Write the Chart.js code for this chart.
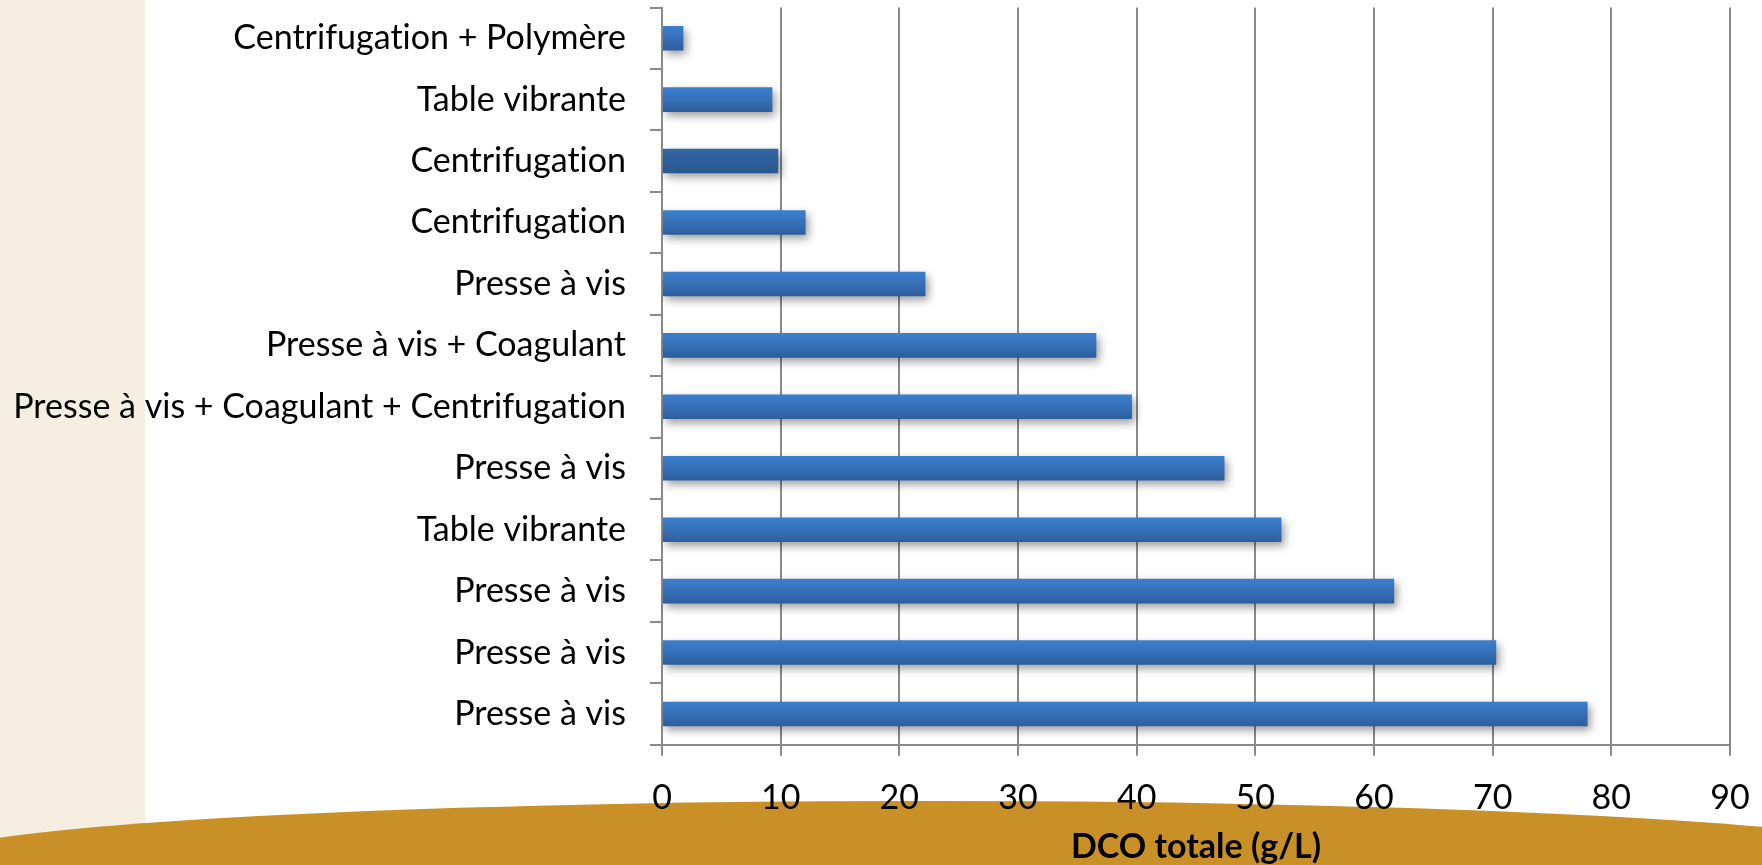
<!DOCTYPE html>
<html>
<head>
<meta charset="utf-8">
<script src="https://cdn.jsdelivr.net/npm/chart.js@4/dist/chart.umd.min.js"></script>
<style>
  html, body { margin: 0; padding: 0; background: #ffffff; }
  #wrap { width: 1762px; height: 865px; position: relative; }
</style>
</head>
<body>
<div id="wrap"><canvas id="c" width="1762" height="865"></canvas></div>
<script>
const categories = [
  "Centrifugation + Polymère",
  "Table vibrante",
  "Centrifugation",
  "Centrifugation",
  "Presse à vis",
  "Presse à vis + Coagulant",
  "Presse à vis + Coagulant + Centrifugation",
  "Presse à vis",
  "Table vibrante",
  "Presse à vis",
  "Presse à vis",
  "Presse à vis"
];
const dcoValues = [1.8, 9.3, 9.8, 12.1, 22.2, 36.6, 39.6, 47.4, 52.2, 61.7, 70.3, 78.0];
const highlightIndex = 2;
const xTicks = [0, 10, 20, 30, 40, 50, 60, 70, 80, 90];
const axisTitle = "DCO totale (g/L)";

const FONT = "Lato, 'Open Sans', sans-serif";
const GRID = "#8a8a8a";

const background = {
  id: 'background',
  beforeDraw(chart) {
    const ctx = chart.ctx;
    ctx.textRendering = 'optimizeSpeed';
    ctx.save();
    ctx.fillStyle = '#ffffff';
    ctx.fillRect(0, 0, chart.width, chart.height);
    ctx.fillStyle = '#F6EEE1';
    ctx.fillRect(0, 0, 145, chart.height);
    ctx.fillStyle = '#C89026';
    ctx.beginPath();
    ctx.ellipse(930, 859, 1000, 58, 0, 0, Math.PI * 2);
    ctx.fill();
    ctx.restore();
  }
};

const shadow = {
  id: 'barShadow',
  beforeDatasetsDraw(chart) {
    const ctx = chart.ctx;
    ctx.save();
    ctx.shadowColor = 'rgba(0,0,0,0.38)';
    ctx.shadowBlur = 9;
    ctx.shadowOffsetX = 3;
    ctx.shadowOffsetY = 4;
  },
  afterDatasetsDraw(chart) {
    chart.ctx.restore();
  }
};

function barFill(c) {
  const chart = c.chart;
  const y = chart.scales && chart.scales.y;
  const idx = c.dataIndex;
  const fallback = idx === highlightIndex ? '#2D5E9B' : '#3570B8';
  if (!y || idx === undefined) return fallback;
  const p0 = y.getPixelForValue(0), p1 = y.getPixelForValue(1);
  const cy = y.getPixelForValue(idx);
  const band = Math.abs(p1 - p0);
  if (!isFinite(band) || !isFinite(cy) || band <= 0) return fallback;
  const h = band * 0.4;
  const g = chart.ctx.createLinearGradient(0, cy - h / 2, 0, cy + h / 2);
  if (idx === highlightIndex) {
    g.addColorStop(0, '#3266A7');
    g.addColorStop(1, '#29588F');
  } else {
    g.addColorStop(0, '#3C7FCD');
    g.addColorStop(0.5, '#3670B8');
    g.addColorStop(1, '#2C5E9C');
  }
  return g;
}

const chart = new Chart(document.getElementById('c'), {
  type: 'bar',
  data: {
    labels: categories,
    datasets: [{
      label: axisTitle,
      data: dcoValues,
      backgroundColor: barFill,
      borderWidth: 0,
      barPercentage: 0.4,
      categoryPercentage: 1.0
    }]
  },
  options: {
    indexAxis: 'y',
    responsive: false,
    animation: false,
    layout: { padding: { top: 7.5, right: 32, bottom: 0, left: 0 } },
    plugins: {
      legend: { display: false },
      tooltip: { enabled: false }
    },
    scales: {
      x: {
        min: 0,
        max: 90,
        afterBuildTicks(s) { s.ticks = xTicks.map(v => ({ value: v })); },
        afterFit(s) { s.height = 120.3; s.paddingLeft = 0; s.paddingRight = 0; },
        grid: { color: GRID, lineWidth: 2, drawTicks: true, tickLength: 11, tickColor: GRID },
        border: { display: true, color: GRID, width: 2 },
        ticks: {
          color: '#000000',
          font: { family: FONT, size: 34 },
          padding: 22,
          maxRotation: 0
        },
        title: {
          display: true,
          text: axisTitle,
          color: '#000000',
          font: { family: FONT, size: 34, weight: 'bold', lineHeight: 1.0 },
          padding: { top: 0, bottom: 1 }
        }
      },
      y: {
        afterFit(s) { s.width = 662; s.paddingTop = 0; s.paddingBottom = 0; },
        grid: { drawOnChartArea: false, drawTicks: true, tickLength: 12, color: GRID, lineWidth: 2 },
        border: { display: true, color: GRID, width: 2 },
        ticks: {
          color: '#000000',
          font: { family: FONT, size: 34 },
          padding: 24,
          autoSkip: false
        }
      }
    }
  },
  plugins: [background, shadow]
});
chart.update();
</script>
</body>
</html>
